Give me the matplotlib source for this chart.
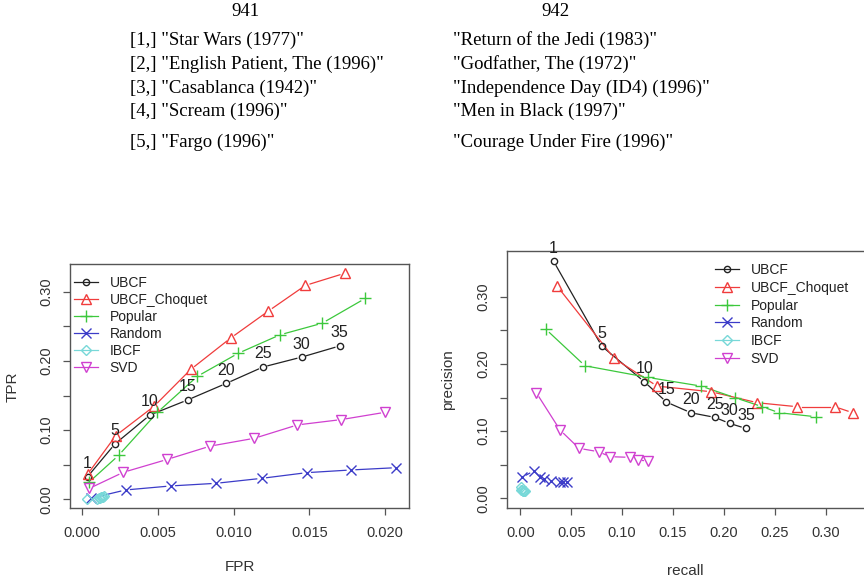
import numpy as np
import matplotlib.pyplot as plt

plt.rcParams['font.family'] = ['Liberation Sans', 'DejaVu Sans']

# top-N lists for users 941 and 942
col_941 = ['"Star Wars (1977)"', '"English Patient, The (1996)"', '"Casablanca (1942)"',
           '"Scream (1996)"', '"Fargo (1996)"']
col_942 = ['"Return of the Jedi (1983)"', '"Godfather, The (1972)"',
           '"Independence Day (ID4) (1996)"', '"Men in Black (1997)"',
           '"Courage Under Fire (1996)"']

n_list = [1, 5, 10, 15, 20, 25, 30, 35]
methods = ['UBCF', 'UBCF_Choquet', 'Popular', 'Random', 'IBCF', 'SVD']

# ROC values (FPR, TPR); recall == TPR
fpr_ubcf = [0.00035, 0.00216, 0.00447, 0.00696, 0.00952, 0.01194, 0.01449, 0.0170]
tpr_ubcf = [0.0327, 0.0800, 0.1218, 0.1436, 0.1676, 0.1912, 0.2055, 0.2216]
fpr_choq = [0.00035, 0.00222, 0.00474, 0.00716, 0.0098, 0.01229, 0.01473, 0.01733]
tpr_choq = [0.0362, 0.0922, 0.1344, 0.1876, 0.2330, 0.2720, 0.3090, 0.3266]
fpr_pop = [0.00046, 0.0024, 0.00496, 0.0076, 0.0103, 0.01306, 0.01584, 0.01868]
tpr_pop = [0.0250, 0.0635, 0.1255, 0.1777, 0.2110, 0.2377, 0.2544, 0.2902]
fpr_rand = [0.00055, 0.00286, 0.00584, 0.00883, 0.01185, 0.01482, 0.01775, 0.02073]
tpr_rand = [0.0014, 0.0135, 0.0193, 0.0231, 0.0303, 0.0385, 0.0424, 0.0457]
fpr_ibcf = [0.00030, 0.00100, 0.00110, 0.00118, 0.00125, 0.00130, 0.00136, 0.00142]
tpr_ibcf = [0.0002, 0.0010, 0.0016, 0.0022, 0.0028, 0.0033, 0.0038, 0.0044]
fpr_svd = [0.00046, 0.00271, 0.00562, 0.00844, 0.01137, 0.01421, 0.01711, 0.02002]
tpr_svd = [0.0157, 0.0390, 0.0577, 0.0768, 0.0882, 0.1075, 0.1152, 0.1258]

# precision values
prec_ubcf = [0.353, 0.2266, 0.1736, 0.1433, 0.1274, 0.1205, 0.1116, 0.1041]
prec_choq = [0.3159, 0.2083, 0.1671, 0.1587, 0.1423, 0.1364, 0.1364, 0.1274]
prec_pop = [0.2519, 0.1974, 0.1800, 0.1671, 0.1498, 0.1364, 0.1274, 0.1215]
prec_rand = [0.031, 0.041, 0.032, 0.028, 0.026, 0.025, 0.025, 0.024]
prec_ibcf = [0.0175, 0.0120, 0.0118, 0.0115, 0.0113, 0.0112, 0.0111, 0.0110]
prec_svd = [0.1572, 0.1017, 0.0744, 0.0694, 0.0620, 0.0610, 0.0570, 0.0555]

fprs = [fpr_ubcf, fpr_choq, fpr_pop, fpr_rand, fpr_ibcf, fpr_svd]
tprs = [tpr_ubcf, tpr_choq, tpr_pop, tpr_rand, tpr_ibcf, tpr_svd]
precs = [prec_ubcf, prec_choq, prec_pop, prec_rand, prec_ibcf, prec_svd]

colors = ['#222222', '#f03c3c', '#3cc83c', '#3c3cc8', '#78d8d8', '#d040d0']
markers = ['o', '^', '+', 'x', 'D', 'v']
msizes = [4.5, 7.5, 9, 7, 5.5, 7.5]


def lines_b(ax, x, y, col, gap=5.0):
    # R type="b": segments stop short of the points
    tr = ax.transData
    pts = tr.transform(np.column_stack([x, y]))
    for p0, p1 in zip(pts[:-1], pts[1:]):
        d = p1 - p0
        L = np.hypot(*d)
        if L <= 2 * gap:
            continue
        u = d / L
        seg = tr.inverted().transform(np.array([p0 + u * gap, p1 - u * gap]))
        ax.plot(seg[:, 0], seg[:, 1], color=col, lw=0.9, zorder=2)


def style_axes(ax):
    for s in ax.spines.values():
        s.set_color('#555555')
        s.set_linewidth(1.0)
    ax.tick_params(colors='#555555', labelcolor='#333333', length=5, width=0.9,
                   labelsize=10.5)
    ax.tick_params(axis='x', pad=8)
    ax.tick_params(axis='y', pad=7)
    for lab in ax.get_yticklabels():
        lab.set_rotation(90)
        lab.set_va('center')


fig = plt.figure(figsize=(8.64, 5.78), dpi=100)

# header text
serif = ['Liberation Serif', 'DejaVu Serif']
hsize = 13.5
fig.text(245 / 864, 1 - 12 / 578, '941', family=serif, fontsize=hsize, ha='center', va='center')
fig.text(555 / 864, 1 - 12 / 578, '942', family=serif, fontsize=hsize, ha='center', va='center')
row_y = [40, 64, 88, 111, 142]
for i, (a, b) in enumerate(zip(col_941, col_942)):
    fig.text(130 / 864, 1 - row_y[i] / 578, '[%d,] %s' % (i + 1, a), family=serif,
             fontsize=hsize, ha='left', va='center')
    fig.text(453 / 864, 1 - row_y[i] / 578, b, family=serif, fontsize=hsize,
             ha='left', va='center')

# ROC plot
ax1 = fig.add_axes([70 / 864, 1 - 508.3 / 578, 339 / 864, 244 / 578])
ax1.set_xlim(-0.00081, 0.02158)
ax1.set_ylim(-0.013, 0.3396)
ax1.set_xticks([0, 0.005, 0.010, 0.015, 0.020])
ax1.set_xticklabels(['0.000', '0.005', '0.010', '0.015', '0.020'])
ax1.set_yticks(np.arange(0, 0.31, 0.05))
ax1.set_yticklabels(['0.00', '', '0.10', '', '0.20', '', '0.30'])

# precision/recall plot
ax2 = fig.add_axes([507 / 864, 1 - 508.3 / 578, 359 / 864, 257.6 / 578])
ax2.set_xlim(-0.0131, 0.3396)
ax2.set_ylim(-0.0149, 0.3688)
ax2.set_xticks(np.arange(0, 0.31, 0.05))
ax2.set_xticklabels(['0.00', '0.05', '0.10', '0.15', '0.20', '0.25', '0.30'])
ax2.set_yticks(np.arange(0, 0.31, 0.05))
ax2.set_yticklabels(['0.00', '', '0.10', '', '0.20', '', '0.30'])

handles = []
for k in range(len(methods)):
    mk = dict(marker=markers[k], ms=msizes[k], mec=colors[k], mfc='none',
              mew=1.0, ls='none', zorder=3)
    lines_b(ax1, fprs[k], tprs[k], colors[k])
    ax1.plot(fprs[k], tprs[k], **mk)
    lines_b(ax2, tprs[k], precs[k], colors[k])
    ax2.plot(tprs[k], precs[k], **mk)
    h, = ax1.plot([], [], color=colors[k], lw=0.9, marker=markers[k], ms=msizes[k],
                  mec=colors[k], mfc='none', mew=1.0)
    handles.append(h)

# n annotations on UBCF
for n, x, y in zip(n_list, fpr_ubcf, tpr_ubcf):
    ax1.annotate(str(n), (x, y), xytext=(0, 4), textcoords='offset points',
                 ha='center', va='bottom', fontsize=11.5, color='#222222', zorder=5)
for n, x, y in zip(n_list, tpr_ubcf, prec_ubcf):
    ax2.annotate(str(n), (x, y), xytext=(0, 4), textcoords='offset points',
                 ha='center', va='bottom', fontsize=11.5, color='#222222', zorder=5,
                 annotation_clip=False)

ax1.legend(handles, methods, loc='upper left', bbox_to_anchor=(0.012, 0.953),
           frameon=False, fontsize=10, handlelength=1.7, handletextpad=0.85,
           labelspacing=0.22, borderpad=0, borderaxespad=0, labelcolor='#222222')
ax2.legend(handles, methods, loc='upper left', bbox_to_anchor=(0.58, 0.952),
           frameon=False, fontsize=10, handlelength=1.7, handletextpad=0.85,
           labelspacing=0.27, borderpad=0, borderaxespad=0, labelcolor='#222222')

ax1.set_xlabel('FPR', fontsize=11, color='#333333')
ax1.set_ylabel('TPR', fontsize=11, color='#333333')
ax1.xaxis.set_label_coords((240 - 70) / 339, -(560 - 508.3) / 244)
ax1.yaxis.set_label_coords(-(70 - 20) / 339, 0.5)
ax2.set_xlabel('recall', fontsize=11, color='#333333')
ax2.set_ylabel('precision', fontsize=11, color='#333333')
ax2.xaxis.set_label_coords((685 - 507) / 359, -(564 - 508.3) / 257.6)
ax2.yaxis.set_label_coords(-(507 - 455) / 359, (508.3 - 380) / 257.6)

style_axes(ax1)
style_axes(ax2)

fig.savefig('out.png', dpi=100)
